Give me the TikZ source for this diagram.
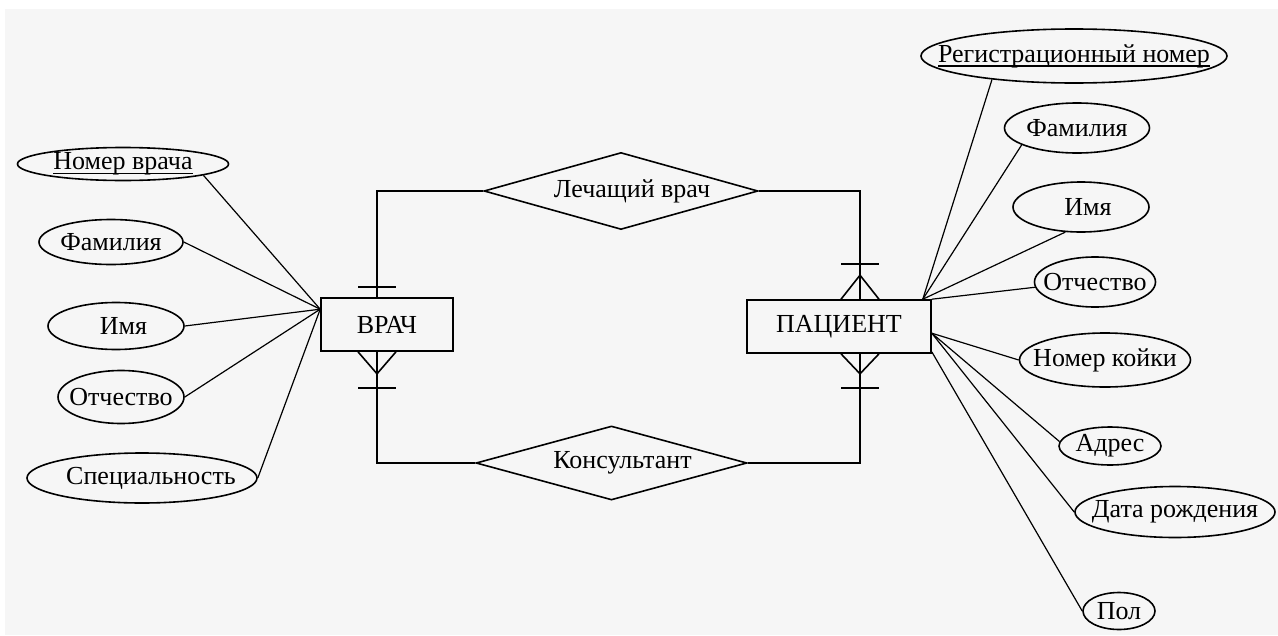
\documentclass[tikz,border=0pt]{standalone}
\usepackage{fontspec}
\setmainfont{Liberation Serif}
\usetikzlibrary{shapes.geometric,calc}

\definecolor{paper}{RGB}{246,246,246}

\tikzset{
  entity/.style={draw, rectangle, line width=1.6pt, inner sep=-60pt, minimum height=53pt},
  relation/.style={draw, diamond, line width=1.6pt, inner sep=-60pt},
  attr/.style={draw, ellipse, line width=1.6pt, inner sep=-60pt},
  link/.style={line width=1.6pt},
  attrline/.style={line width=1.2pt},
}

% key attribute: underlined name
\newcommand{\keyattr}[1]{\setbox0\hbox{#1}\rlap{\rule[-4.5pt]{\wd0}{1.2pt}}\box0}

\begin{document}
\begin{tikzpicture}[x=1pt, y=-1pt, font=\fontsize{26}{30}\selectfont]
        % page
        \fill[white] (0,0) rectangle (1278,635);
        \fill[paper] (5,9) rectangle (1278,635);

        % entities
        \node[entity, minimum width=132pt] (vrach) at (387,324.5) {ВРАЧ};
        \node[entity, minimum width=184pt] (pacient) at (839,326.5) {ПАЦИЕНТ};

        % relationships
        \node[relation, minimum width=274pt, minimum height=77pt] (lech) at (621,191) {\hspace*{22pt}Лечащий врач};
        \node[relation, minimum width=271pt, minimum height=74pt] (kons) at (611.5,463) {\hspace*{22pt}Консультант};

        % attributes of ВРАЧ
        \node[attr, minimum width=211pt, minimum height=33pt] (v-nom) at (123,164) {\keyattr{Номер врача}};
        \node[attr, minimum width=144pt, minimum height=45pt] (v-fam) at (111,242) {Фамилия};
        \node[attr, minimum width=136pt, minimum height=47pt] (v-imya) at (116,326) {\hspace*{15pt}Имя};
        \node[attr, minimum width=126pt, minimum height=53pt] (v-otch) at (121,397) {Отчество};
        \node[attr, minimum width=230pt, minimum height=50pt] (v-spec) at (142,478) {\hspace*{18pt}Специальность};

        % attributes of ПАЦИЕНТ
        \node[attr, minimum width=306pt, minimum height=54pt] (p-reg) at (1074,56) {\keyattr{Регистрационный номер}};
        \node[attr, minimum width=145pt, minimum height=50pt] (p-fam) at (1077,128) {Фамилия};
        \node[attr, minimum width=136pt, minimum height=50pt] (p-imya) at (1081,207) {\hspace*{14pt}Имя};
        \node[attr, minimum width=121pt, minimum height=50pt] (p-otch) at (1095,282) {Отчество};
        \node[attr, minimum width=171pt, minimum height=54pt] (p-koika) at (1105,360) {Номер койки};
        \node[attr, minimum width=102pt, minimum height=38pt] (p-adres) at (1110,446) {Адрес};
        \node[attr, minimum width=200pt, minimum height=51pt] (p-data) at (1175,512) {Дата рождения};
        \node[attr, minimum width=72pt, minimum height=37pt] (p-pol) at (1119,611) {Пол};

        % where the links meet the boxes
        \coordinate (v-top) at ($(vrach.north)+(-10,0)$);
        \coordinate (v-bot) at ($(vrach.south)+(-10,0)$);
        \coordinate (p-top) at ($(pacient.north)+(21,0)$);
        \coordinate (p-bot) at ($(pacient.south)+(21,0)$);

        \draw[link] (v-top) |- (lech.west);
        \draw[link] (p-top) |- (lech.east);
        \draw[link] (v-bot) |- (kons.west);
        \draw[link] (p-bot) |- (kons.east);

        % one
        \draw[link] ($(v-top)+(-19,-10)$) -- ++(38,0);
        % one or many
        \draw[link] ($(v-bot)+(-19,0)$) -- ++(19,22) -- ++(19,-22);
        \draw[link] ($(v-bot)+(-19,36)$) -- ++(38,0);
        \draw[link] ($(p-top)+(-19,0)$) -- ++(19,-24) -- ++(19,24);
        \draw[link] ($(p-top)+(-19,-35)$) -- ++(38,0);
        \draw[link] ($(p-bot)+(-19,0)$) -- ++(19,20) -- ++(19,-20);
        \draw[link] ($(p-bot)+(-19,34)$) -- ++(38,0);

        % attribute lines
        \coordinate (v-attr) at ($(vrach.north west)+(0,12)$);
        \draw[attrline] (v-nom.-8) -- (v-attr);
        \draw[attrline] (v-fam.east) -- (v-attr);
        \draw[attrline] (v-imya.east) -- (v-attr);
        \draw[attrline] (v-otch.east) -- (v-attr);
        \draw[attrline] (v-spec.east) -- (v-attr);

        \coordinate (p-attr) at ($(pacient.north east)+(-9,0)$);
        \coordinate (p-attr2) at ($(pacient.north east)+(0,34)$);
        \coordinate (p-corner) at ($(pacient.south east)+(0,-2)$);
        \draw[attrline] (p-reg.196) -- (p-attr);
        \draw[attrline] (p-fam.197) -- (p-attr);
        \draw[attrline] (p-imya.238) -- (p-attr);
        \draw[attrline] (p-otch.185) -- (pacient.north east);
        \draw[attrline] (p-koika.west) -- (p-attr2);
        \draw[attrline] (p-adres.175) -- (p-attr2);
        \draw[attrline] (p-data.west) -- (p-attr2);
        \draw[attrline] (p-pol.west) -- (p-corner);
    \end{tikzpicture}
\end{document}
